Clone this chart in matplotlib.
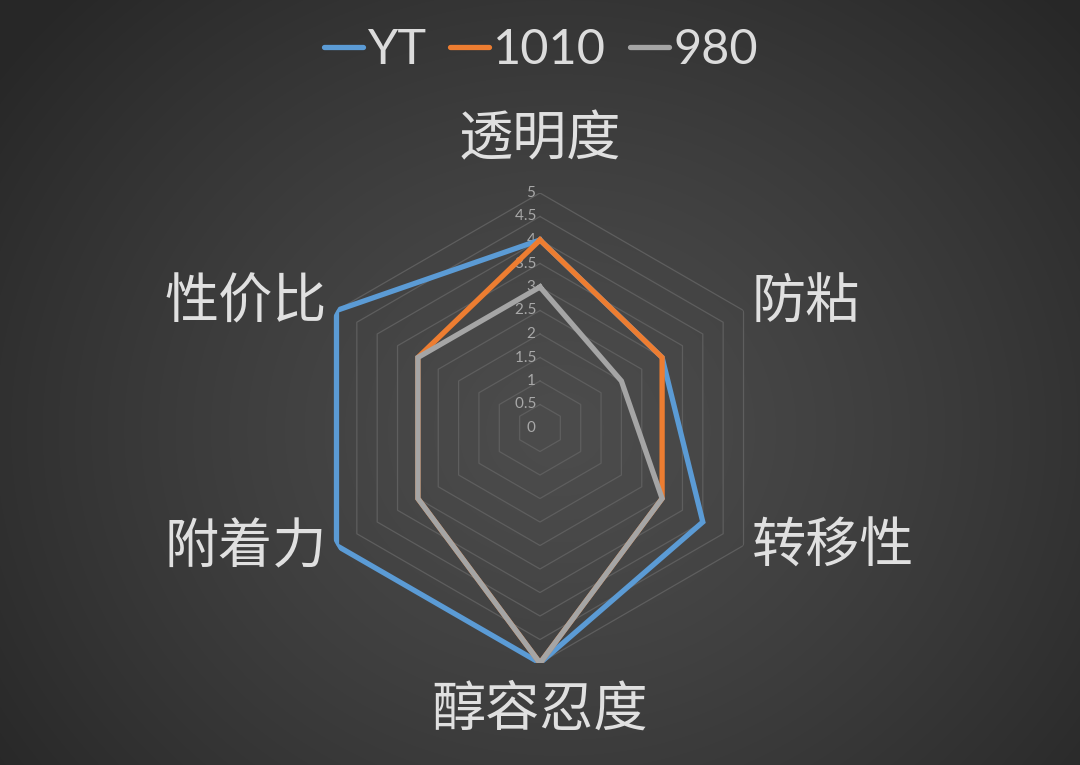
import numpy as np
import matplotlib
matplotlib.use("Agg")
import matplotlib.pyplot as plt

categories = ["透明度", "防粘", "转移性", "醇容忍度", "附着力", "性价比"]
series_names = ["YT", "1010", "980"]
yt_values = [4, 3, 4, 5, 5, 5]
v1010_values = [4, 3, 3, 5, 3, 3]
v980_values = [3, 2, 3, 5, 3, 3]
tick_values = [0, 0.5, 1, 1.5, 2, 2.5, 3, 3.5, 4, 4.5, 5]
tick_labels = ["0", "0.5", "1", "1.5", "2", "2.5", "3", "3.5", "4", "4.5", "5"]

colors = ["#5B9BD5", "#ED7D31", "#A5A5A5"]
cjk = ["Noto Sans CJK SC", "DejaVu Sans"]
plt.rcParams['font.family'] = cjk

W, H = 1080, 765
fig = plt.figure(figsize=(W / 100, H / 100), dpi=100)

# radial gradient background
bg = fig.add_axes([0, 0, 1, 1])
yy, xx = np.mgrid[0:H, 0:W]
cx, cy = 560, 430
d = np.sqrt(((xx - cx) / 700.0) ** 2 + ((yy - cy) / 620.0) ** 2)
d = np.clip(d, 0, 1)
inner = np.array([0x4c, 0x4c, 0x4c]) / 255.0
outer = np.array([0x27, 0x27, 0x27]) / 255.0
img = inner[None, None, :] * (1 - d[..., None] ** 1.3) + outer[None, None, :] * (d[..., None] ** 1.3)
bg.imshow(img, extent=[0, W, H, 0], aspect='auto')
bg.set_xlim(0, W)
bg.set_ylim(H, 0)
bg.axis('off')

cxp, cyp, R = 540, 428, 235
ax = fig.add_axes([(cxp - R) / W, 1 - (cyp + R) / H, 2 * R / W, 2 * R / H], projection='polar')
ax.set_facecolor('none')
ax.patch.set_alpha(0)
ax.set_theta_offset(np.pi / 2)
ax.set_theta_direction(-1)
ax.set_ylim(0, 5)
ax.grid(False)
ax.spines['polar'].set_visible(False)
ax.set_xticks([])
ax.set_yticks([])

n = len(categories)
theta = np.linspace(0, 2 * np.pi, n, endpoint=False)
theta_c = np.concatenate([theta, theta[:1]])

# hexagonal grid
for r in tick_values[1:]:
    ax.plot(theta_c, [r] * (n + 1), color="#5e5e5e", lw=0.9, zorder=1)

for vals, col, name in zip([yt_values, v1010_values, v980_values], colors, series_names):
    v = list(vals) + [vals[0]]
    ax.plot(theta_c, v, color=col, lw=3.8, label=name, zorder=3, solid_joinstyle='miter')

# radial tick labels along top axis
for r, lab in zip(tick_values, tick_labels):
    ax.text(0, r, lab + " ", ha='right', va='center', fontsize=11, color="#a8a8a8",
            family=["Lato", "DejaVu Sans"], zorder=2, transform=ax.transData)

# category labels
label_pos = [(540, 140), (806, 302), (833, 547), (540, 710), (246, 548), (246, 303)]
for cat, (px, py) in zip(categories, label_pos):
    fig.text(px / W, 1 - py / H, cat, ha='center', va='center', fontsize=39,
             color="#e0e0e0", family=cjk, fontweight='light')

leg = fig.legend(loc='center', bbox_to_anchor=(541 / W, 1 - 50 / H), ncol=3, frameon=False,
                 handlelength=0.8, handletextpad=0.08, columnspacing=0.5,
                 prop={'family': ['Lato', 'DejaVu Sans'], 'size': 35})
for t in leg.get_texts():
    t.set_color("#dcdcdc")
for h in leg.get_lines():
    h.set_solid_capstyle('round')

fig.savefig("out.png", dpi=100)
